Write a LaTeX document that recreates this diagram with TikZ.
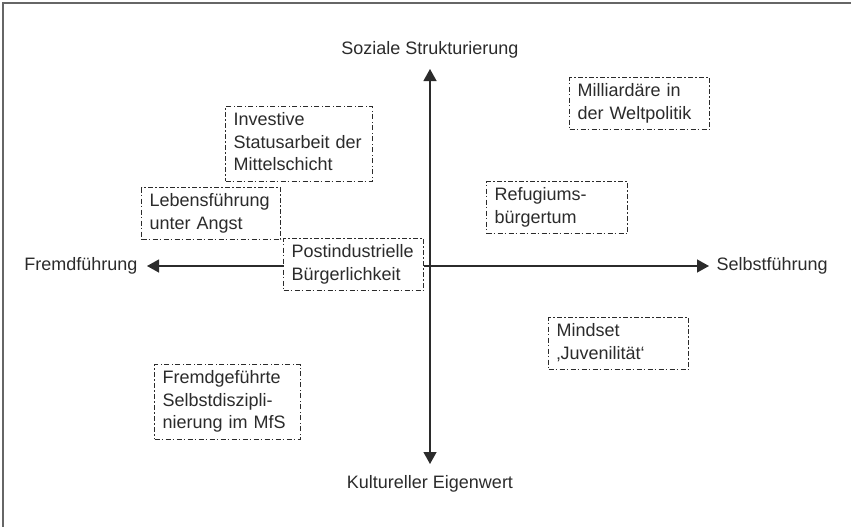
\documentclass[tikz,border=0pt]{standalone}
\usepackage{fontspec}
\setmainfont{Liberation Sans}
\usepackage{tikz}
\usetikzlibrary{arrows.meta,positioning}
\definecolor{ink}{HTML}{2B2B2B}
\definecolor{frame}{HTML}{666666}

\tikzset{
  fieldbox/.style={draw=ink,line width=1.1pt,dash pattern=on 5pt off 2pt on 1.5pt off 2.5pt,
    fill=white,anchor=north west,align=left,inner xsep=8pt,inner ysep=3.5pt,text=ink,
    execute at begin node=\strut,execute at end node=\strut},
  axislabel/.style={text=ink},
  axisline/.style={draw=ink,line width=1.3pt,-{Triangle[length=12pt,width=13pt]}}
}

\begin{document}
\begin{tikzpicture}[x=1pt,y=-1pt,font=\fontsize{18}{22.5}\selectfont]
  \useasboundingbox (0,0) rectangle (851,527);
  % frame (left and top edge)
  \draw[frame,line width=2pt] (3,527) -- (3,3) -- (851,3);
  % axes
  \coordinate (C) at (430,266);
  \coordinate (N) at (430,69);
  \coordinate (S) at (430,464);
  \coordinate (W) at (147,266);
  \coordinate (E) at (709,266);
  \draw[axisline] (C) -- (N);
  \draw[axisline] (C) -- (S);
  \draw[axisline] (C) -- (W);
  \draw[axisline] (C) -- (E);
  \node[axislabel,above=7pt of N] (struk) {Soziale Strukturierung};
  \node[axislabel,below=8pt of S] (eigen) {Kultureller Eigenwert};
  \node[axislabel,left=6pt of W] (fremd) {Fremdführung};
  \node[axislabel,right=4pt of E] (selbst) {Selbstführung};
  % fields
  \foreach \n/\x/\y/\w/\txt in {
    inv/225/106/131/{Investive\\Statusarbeit der\\Mittelschicht},
    leb/141/187/123/{Lebensführung\\unter Angst},
    post/283/238/124/{Postindustrielle\\Bürgerlichkeit},
    mill/569/77/124/{Milliardäre in\\der Weltpolitik},
    ref/486/181/125/{Refugiums-\\bürgertum},
    mind/548/317/124/{Mindset\\‚Juvenilität‘},
    frem/154/364/130/{Fremdgeführte\\Selbstdiszipli-\\nierung im MfS}}{
    \node[fieldbox,text width=\w pt] (\n) at (\x,\y) {\txt};
  }
\end{tikzpicture}
\end{document}
